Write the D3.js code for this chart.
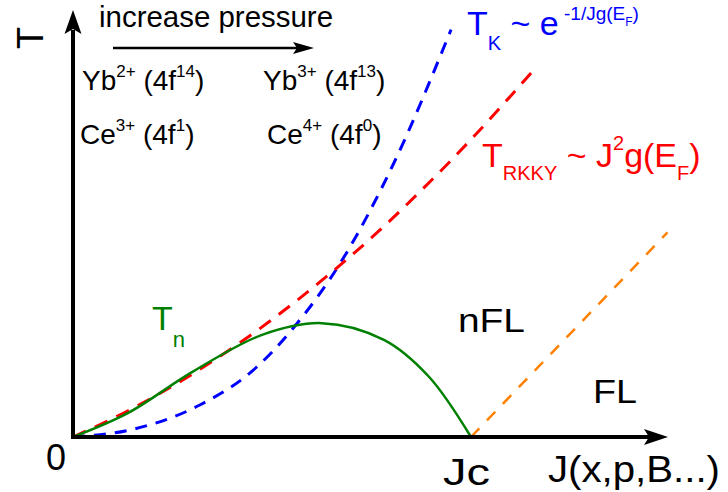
<!DOCTYPE html>
<html>
<head>
<meta charset="utf-8">
<script src="https://cdn.jsdelivr.net/npm/d3@7"></script>
<style>
  body { margin: 0; background: #fff; }
  svg { display: block; font-family: "Liberation Sans", Arial, sans-serif; }
</style>
</head>
<body>
<div id="chart"></div>
<script>
// Doniach-type phase diagram (arbitrary units)
const kondoJ = [0, 1.15, 2.55, 3.6, 4.45, 5.4, 6.45, 7.6];
const kondoT = [0, 0.2, 0.9, 1.85, 3.1, 4.95, 7.7, 11.45];

const rkkyJ = [0, 1, 2, 3, 4, 5, 6, 7, 8, 9.25];
const rkkyT = [0, 0.66, 1.43, 2.31, 3.3, 4.4, 5.6, 6.93, 8.36, 10.3];

const neelJ = [0, 1.1, 2.4, 3.8, 5.0, 6.25, 7.15, 8.0];
const neelT = [0, 0.67, 1.83, 2.87, 3.2, 2.73, 1.7, 0];

const flJ = [8.0, 11.95];
const flT = [0, 5.75];

const W = 728, H = 492;
const svg = d3.select('#chart').append('svg')
  .attr('width', W)
  .attr('height', H);

const x = d3.scaleLinear().domain([0, 12]).range([73, 670]);
const y = d3.scaleLinear().domain([0, 12]).range([437, 10]);

const zip = (a, b) => a.map((v, i) => [v, b[i]]);

const smooth = d3.line()
  .x(d => x(d[0]))
  .y(d => y(d[1]))
  .curve(d3.curveMonotoneX);

const dome = d3.line()
  .x(d => x(d[0]))
  .y(d => y(d[1]))
  .curve(d3.curveCatmullRom.alpha(0.5));

// curves
svg.append('path')
  .datum(zip(kondoJ, kondoT))
  .attr('d', smooth)
  .attr('fill', 'none')
  .attr('stroke', '#0000ff')
  .attr('stroke-width', 3)
  .attr('stroke-dasharray', '12,9');

svg.append('path')
  .datum(zip(rkkyJ, rkkyT))
  .attr('d', smooth)
  .attr('fill', 'none')
  .attr('stroke', '#ff0000')
  .attr('stroke-width', 3)
  .attr('stroke-dasharray', '14,10');

svg.append('path')
  .datum(zip(neelJ, neelT))
  .attr('d', dome)
  .attr('fill', 'none')
  .attr('stroke', '#008000')
  .attr('stroke-width', 2.5);

svg.append('path')
  .datum(zip(flJ, flT))
  .attr('d', d3.line().x(d => x(d[0])).y(d => y(d[1])))
  .attr('fill', 'none')
  .attr('stroke', '#ff8000')
  .attr('stroke-width', 2.5)
  .attr('stroke-dasharray', '12,11');

// axes with arrow heads
const x0 = x(0), y0 = y(0);
svg.append('line')
  .attr('x1', x0).attr('y1', y0 + 2)
  .attr('x2', x0).attr('y2', 30)
  .attr('stroke', '#000').attr('stroke-width', 4);
svg.append('path')
  .attr('d', `M${x0},10 L${x0 + 8.5},34 L${x0},29 L${x0 - 8.5},34 Z`)
  .attr('fill', '#000');

svg.append('line')
  .attr('x1', x0 - 2).attr('y1', y0)
  .attr('x2', 650).attr('y2', y0)
  .attr('stroke', '#000').attr('stroke-width', 4);
svg.append('path')
  .attr('d', `M668,${y0} L644,${y0 - 8} L649,${y0} L644,${y0 + 8} Z`)
  .attr('fill', '#000');

// pressure arrow
svg.append('line')
  .attr('x1', 113).attr('y1', 48)
  .attr('x2', 300).attr('y2', 48)
  .attr('stroke', '#000').attr('stroke-width', 2.5);
svg.append('path')
  .attr('d', 'M314,48 L293,42 L297,48 L293,54 Z')
  .attr('fill', '#000');

// rich text helper: parts are [text, 'sup'|'sub'|undefined]
function rich(px, py, size, color, parts, opts = {}) {
  const t = svg.append('text')
    .attr('x', px).attr('y', py)
    .attr('font-size', size)
    .attr('fill', color);
  if (opts.len) t.attr('textLength', opts.len).attr('lengthAdjust', 'spacingAndGlyphs');
  const small = opts.small || Math.round(size * 0.6);
  let shift = 0;
  parts.forEach(([s, kind]) => {
    let target = 0;
    if (kind === 'sup') target = -size * (opts.supRise || 0.45);
    if (kind === 'sub') target = size * (opts.subDrop || 0.38);
    t.append('tspan')
      .attr('dy', target - shift)
      .attr('font-size', kind ? small : size)
      .text(s);
    shift = target;
  });
  return t;
}

svg.append('text')
  .attr('transform', 'translate(43,38) rotate(-90)')
  .attr('text-anchor', 'middle')
  .attr('font-size', 36)
  .text('T');

rich(99, 27, 29, '#000', [['increase pressure']], { len: 234 });

rich(82, 90, 28, '#000', [['Yb'], ['2+', 'sup'], [' (4f'], ['14', 'sup'], [')']], { small: 17 });
rich(263, 90, 28, '#000', [['Yb'], ['3+', 'sup'], [' (4f'], ['13', 'sup'], [')']], { small: 17 });
rich(80, 144, 28, '#000', [['Ce'], ['3+', 'sup'], [' (4f'], ['1', 'sup'], [')']], { small: 17 });
rich(267, 144, 28, '#000', [['Ce'], ['4+', 'sup'], [' (4f'], ['0', 'sup'], [')']], { small: 17 });

// Kondo label
rich(467, 35, 34, '#0000ff', [['T'], ['K', 'sub'], [' ~ e']], { small: 20, subDrop: 0.45 });
rich(564, 20, 19, '#0000ff', [['-1/Jg(E'], ['F', 'sub'], [')']], { small: 12, subDrop: 0.3 });

// RKKY label
rich(482, 167, 34, '#ff0000', [['T'], ['RKKY', 'sub'], [' ~ J'], ['2', 'sup'], ['g(E'], ['F', 'sub'], [')']], { small: 20, subDrop: 0.38, supRise: 0.5 });

// Tn label
rich(152, 330, 34, '#008000', [['T'], ['n', 'sub']], { small: 22, subDrop: 0.5 });

rich(458, 332, 34, '#000', [['nFL']], { len: 67 });
rich(593, 403, 34, '#000', [['FL']], { len: 44 });

rich(46, 470, 36, '#000', [['0']]);
rich(443, 485, 36, '#000', [['Jc']], { len: 47 });
rich(548, 482, 36, '#000', [['J(x,p,B...)']], { len: 172 });
</script>
</body>
</html>
